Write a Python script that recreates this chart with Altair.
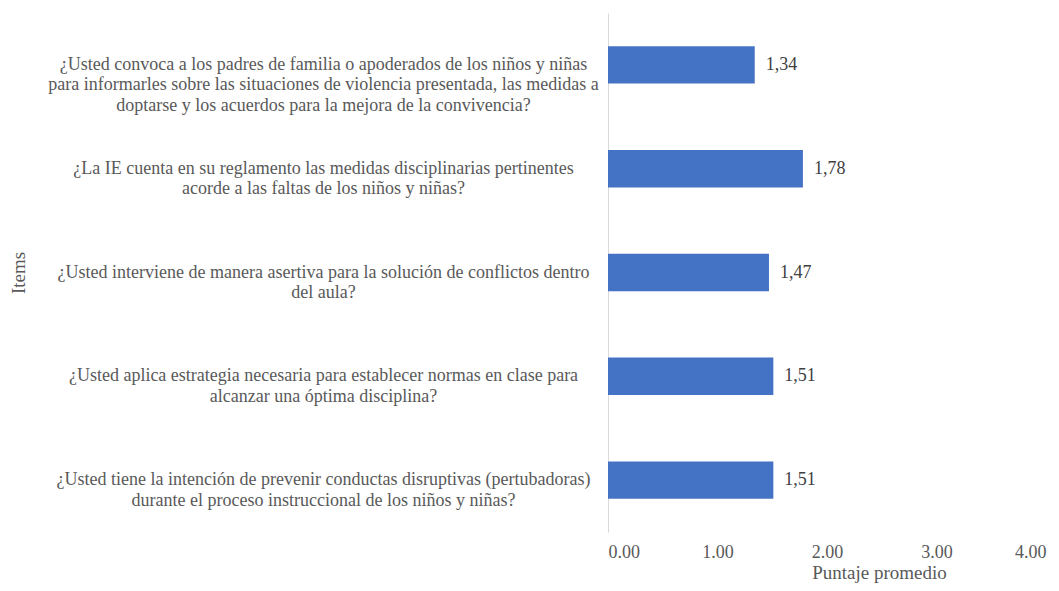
import altair as alt
import pandas as pd

items = [
    "¿Usted convoca a los padres de familia o apoderados de los niños y niñas|para informarles sobre las situaciones de violencia presentada, las medidas a|doptarse y los acuerdos para la mejora de la convivencia?",
    "¿La IE cuenta en su reglamento las medidas disciplinarias pertinentes|acorde a las faltas de los niños y niñas?",
    "¿Usted interviene de manera asertiva para la solución de conflictos dentro|del aula?",
    "¿Usted aplica estrategia necesaria para establecer normas en clase para|alcanzar una óptima disciplina?",
    "¿Usted tiene la intención de prevenir conductas disruptivas (pertubadoras)|durante el proceso instruccional de los niños y niñas?",
]
scores = [1.34, 1.78, 1.47, 1.51, 1.51]
x_ticks = [0, 1, 2, 3, 4]

df = pd.DataFrame({"item": items, "score": scores})

FONT = "Liberation Serif, Times New Roman, serif"
GRAY = "#595959"

y_enc = alt.Y(
    "item:N",
    sort=items,
    scale=alt.Scale(paddingInner=0.64, paddingOuter=0.32),
    axis=alt.Axis(
        title="Items",
        titleFont=FONT,
        titleFontSize=19,
        titleFontWeight="normal",
        titleColor=GRAY,
        titleX=-580,
        labelExpr="split(datum.label, '|')",
        labelAlign="center",
        labelBaseline="middle",
        labelPadding=285,
        labelLimit=800,
        labelLineHeight=20.5,
        labelFont=FONT,
        labelFontSize=18,
        labelColor=GRAY,
        ticks=False,
        domain=True,
        domainColor="#d9d9d9",
        domainWidth=1,
        grid=False,
    ),
)

x_enc = alt.X(
    "score:Q",
    scale=alt.Scale(domain=[0, 4], nice=False),
    axis=alt.Axis(
        title="Puntaje promedio",
        titleFont=FONT,
        titleFontSize=19,
        titleFontWeight="normal",
        titleColor=GRAY,
        titleX=271,
        titleY=40,
        titleBaseline="middle",
        values=x_ticks,
        format=".2f",
        labelFont=FONT,
        labelFontSize=18,
        labelColor=GRAY,
        labelPadding=11,
        ticks=False,
        domain=False,
        grid=False,
    ),
)

bars = alt.Chart(df).mark_bar(color="#4472C4").encode(x=x_enc, y=y_enc)

labels = (
    alt.Chart(df)
    .transform_calculate(lab="replace(format(datum.score, '.2f'), '.', ',')")
    .mark_text(align="left", baseline="middle", dx=11, font=FONT, fontSize=18, color="#404040")
    .encode(x="score:Q", y=alt.Y("item:N", sort=items), text="lab:N")
)

chart = (
    alt.layer(bars, labels)
    .properties(
        width=438,
        height=519,
        autosize=alt.AutoSizeParams(type="none"),
        padding={"left": 600, "top": 5, "right": 5, "bottom": 51},
        view=alt.ViewBackground(stroke="transparent", strokeWidth=0, strokeOpacity=0),
    )
    .configure_view(stroke="transparent", strokeWidth=0)
    .configure(background="white")
)

chart.save("out.html", embed_options={"renderer": "svg", "actions": False})
